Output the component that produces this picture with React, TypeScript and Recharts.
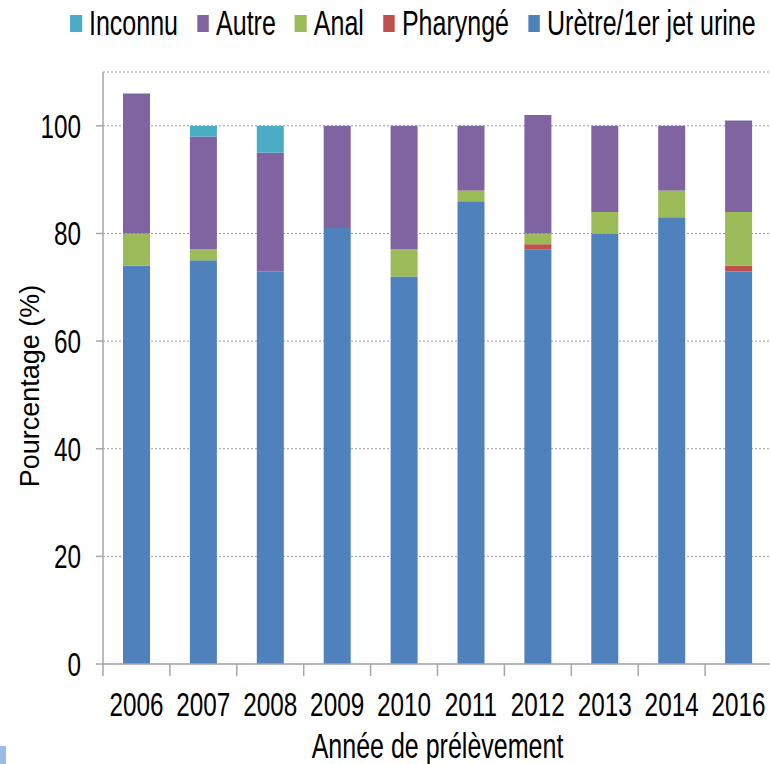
import { Bar, BarChart, CartesianGrid, Legend, XAxis, YAxis } from "recharts";

const years = ["2006", "2007", "2008", "2009", "2010", "2011", "2012", "2013", "2014", "2016"];
const urine = [74, 75, 73, 81, 72, 86, 77, 80, 83, 73];
const pharynge = [0, 0, 0, 0, 0, 0, 1, 0, 0, 1];
const anal = [6, 2, 0, 0, 5, 2, 2, 4, 5, 10];
const autre = [26, 21, 22, 19, 23, 12, 22, 16, 12, 17];
const inconnu = [0, 2, 5, 0, 0, 0, 0, 0, 0, 0];
const yTicks = [0, 20, 40, 60, 80, 100];

const series = [
  { key: "urine", name: "Urètre/1er jet urine", color: "#4F81BD" },
  { key: "pharynge", name: "Pharyngé", color: "#C0504D" },
  { key: "anal", name: "Anal", color: "#9BBB59" },
  { key: "autre", name: "Autre", color: "#8064A2" },
  { key: "inconnu", name: "Inconnu", color: "#4BACC6" },
];

const data = years.map((year, i) => ({
  year,
  urine: urine[i],
  pharynge: pharynge[i],
  anal: anal[i],
  autre: autre[i],
  inconnu: inconnu[i],
}));

// Arial-metric font squeezed horizontally to look like Arial Narrow
const FONT = "'Liberation Sans', Arial, sans-serif";
const SQUEEZE = 0.715;
const AXIS = "#A6A6A6";

function renderLegend() {
  const items = [...series].reverse();
  return (
    <div style={{ transform: `scaleX(${SQUEEZE})`, transformOrigin: "left top", width: 770 / SQUEEZE }}>
      <div style={{ display: "flex", alignItems: "center", paddingLeft: 70 / SQUEEZE, whiteSpace: "nowrap" }}>
        {items.map((s) => (
          <div key={s.key} style={{ display: "flex", alignItems: "center", marginRight: 19 / SQUEEZE }}>
            <span
              style={{
                width: 12 / SQUEEZE,
                height: 17,
                background: s.color,
                display: "inline-block",
                marginRight: 7 / SQUEEZE,
              }}
            />
            <span style={{ fontFamily: FONT, fontSize: 35, color: "#000", lineHeight: "46px" }}>{s.name}</span>
          </div>
        ))}
      </div>
    </div>
  );
}

function NarrowText({ x, y, anchor, size, children }: any) {
  return (
    <text
      transform={`translate(${x}, ${y}) scale(${SQUEEZE}, 1)`}
      textAnchor={anchor}
      fontFamily={FONT}
      fontSize={size}
      fill="#000"
    >
      {children}
    </text>
  );
}

function YearTick(props: any) {
  const { x, y, payload } = props;
  const half = payload.offset ?? 33.5;
  return (
    <g>
      <line x1={x - half} x2={x - half} y1={y} y2={y + 12} stroke={AXIS} strokeWidth={1.5} />
      <NarrowText x={x} y={y + 52} anchor="middle" size={34}>
        {payload.value}
      </NarrowText>
    </g>
  );
}

function ValueTick(props: any) {
  const { x, y, payload } = props;
  return (
    <NarrowText x={x} y={y + 12} anchor="end" size={34}>
      {payload.value}
    </NarrowText>
  );
}

function XLabel(props: any) {
  const { viewBox } = props;
  return (
    <NarrowText x={viewBox.x + viewBox.width / 2} y={viewBox.y + 94} anchor="middle" size={35}>
      Année de prélèvement
    </NarrowText>
  );
}

function YLabel(props: any) {
  const { viewBox } = props;
  const cy = viewBox.y + viewBox.height / 2 + 18;
  return (
    <text
      x={30}
      y={cy}
      transform={`rotate(-90, 30, ${cy})`}
      textAnchor="middle"
      dominantBaseline="central"
      fontFamily={FONT}
      fontSize={27}
      fill="#000"
    >
      Pourcentage (%)
    </text>
  );
}

export default function App() {
  return (
    <div
      style={{
        position: "absolute",
        left: 0,
        top: 0,
        width: 770,
        height: 764,
        overflow: "hidden",
        background: "#fff",
      }}
    >
      <BarChart width={774} height={764} data={data} margin={{ top: 72, right: 2, left: 0, bottom: 0 }}>
        <CartesianGrid vertical={false} stroke="#9A9A9A" strokeDasharray="2 2" />
        <XAxis
          dataKey="year"
          height={100}
          tickLine={false}
          tickSize={0}
          tickMargin={0}
          axisLine={{ stroke: AXIS, strokeWidth: 1.5 }}
          tick={<YearTick />}
          interval={0}
          label={<XLabel />}
        />
        <YAxis
          width={103}
          domain={[0, 110]}
          ticks={yTicks}
          tickSize={7}
          tickMargin={15}
          axisLine={{ stroke: AXIS, strokeWidth: 1.5 }}
          tickLine={{ stroke: AXIS, strokeWidth: 1.5 }}
          tick={<ValueTick />}
          label={<YLabel />}
        />
        <Legend
          layout="horizontal"
          verticalAlign="middle"
          align="center"
          content={renderLegend}
          wrapperStyle={{ top: 0, left: 0, width: 770 }}
        />
        {series.map((s) => (
          <Bar
            key={s.key}
            dataKey={s.key}
            name={s.name}
            stackId="a"
            fill={s.color}
            barSize={27}
            isAnimationActive={false}
          />
        ))}
      </BarChart>
      <div style={{ position: "absolute", left: 0, top: 746, width: 6, height: 18, background: "#9DB9E8" }} />
    </div>
  );
}
